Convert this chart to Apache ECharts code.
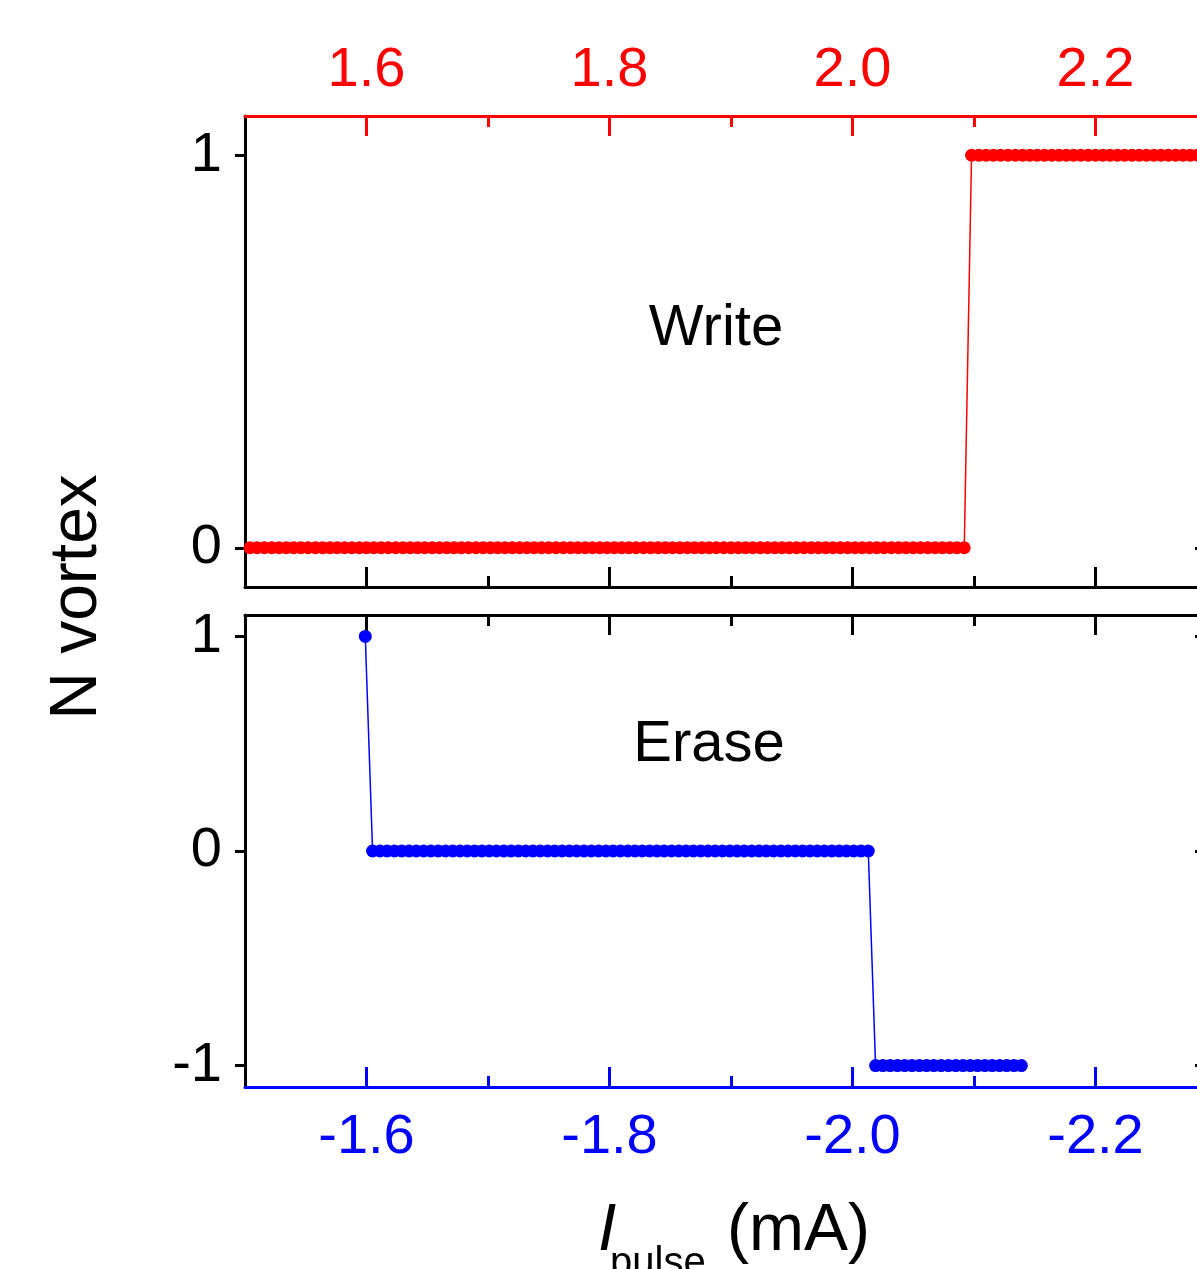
<!DOCTYPE html>
<html>
<head>
<meta charset="utf-8">
<title>N vortex vs I pulse</title>
<script src="https://cdn.jsdelivr.net/npm/echarts@6/dist/echarts.min.js"></script>
<style>
  html, body { margin: 0; padding: 0; background: #ffffff; }
  #chart { width: 1197px; height: 1269px; }
</style>
</head>
<body>
<div id="chart"></div>
<script>
// Write sweep: positive pulse currents (mA) and the resulting vortex number
const writeCurrent = [
  1.504, 1.510, 1.516, 1.522, 1.528, 1.534, 1.540, 1.546, 1.552, 1.558,
  1.564, 1.570, 1.576, 1.582, 1.588, 1.594, 1.600, 1.606, 1.612, 1.618,
  1.624, 1.630, 1.636, 1.642, 1.648, 1.654, 1.660, 1.666, 1.672, 1.678,
  1.684, 1.690, 1.696, 1.702, 1.708, 1.714, 1.720, 1.726, 1.732, 1.738,
  1.744, 1.750, 1.756, 1.762, 1.768, 1.774, 1.780, 1.786, 1.792, 1.798,
  1.804, 1.810, 1.816, 1.822, 1.828, 1.834, 1.840, 1.846, 1.852, 1.858,
  1.864, 1.870, 1.876, 1.882, 1.888, 1.894, 1.900, 1.906, 1.912, 1.918,
  1.924, 1.930, 1.936, 1.942, 1.948, 1.954, 1.960, 1.966, 1.972, 1.978,
  1.984, 1.990, 1.996, 2.002, 2.008, 2.014, 2.020, 2.026, 2.032, 2.038,
  2.044, 2.050, 2.056, 2.062, 2.068, 2.074, 2.080, 2.086, 2.092, 2.098,
  2.104, 2.110, 2.116, 2.122, 2.128, 2.134, 2.140, 2.146, 2.152, 2.158,
  2.164, 2.170, 2.176, 2.182, 2.188, 2.194, 2.200, 2.206, 2.212, 2.218,
  2.224, 2.230, 2.236, 2.242, 2.248, 2.254, 2.260, 2.266, 2.272, 2.278,
  2.284
];
const writeN = [
  0, 0, 0, 0, 0, 0, 0, 0, 0, 0,
  0, 0, 0, 0, 0, 0, 0, 0, 0, 0,
  0, 0, 0, 0, 0, 0, 0, 0, 0, 0,
  0, 0, 0, 0, 0, 0, 0, 0, 0, 0,
  0, 0, 0, 0, 0, 0, 0, 0, 0, 0,
  0, 0, 0, 0, 0, 0, 0, 0, 0, 0,
  0, 0, 0, 0, 0, 0, 0, 0, 0, 0,
  0, 0, 0, 0, 0, 0, 0, 0, 0, 0,
  0, 0, 0, 0, 0, 0, 0, 0, 0, 0,
  0, 0, 0, 0, 0, 0, 0, 0, 0, 1,
  1, 1, 1, 1, 1, 1, 1, 1, 1, 1,
  1, 1, 1, 1, 1, 1, 1, 1, 1, 1,
  1, 1, 1, 1, 1, 1, 1, 1, 1, 1,
  1
];

// Erase sweep: negative pulse currents (mA) and the resulting vortex number
const eraseCurrent = [
  -1.599,
  -1.605, -1.611, -1.617, -1.623, -1.629, -1.635, -1.641, -1.647, -1.653, -1.659,
  -1.665, -1.671, -1.677, -1.683, -1.689, -1.695, -1.701, -1.707, -1.713, -1.719,
  -1.725, -1.731, -1.737, -1.743, -1.749, -1.755, -1.761, -1.767, -1.773, -1.779,
  -1.785, -1.791, -1.797, -1.803, -1.809, -1.815, -1.821, -1.827, -1.833, -1.839,
  -1.845, -1.851, -1.857, -1.863, -1.869, -1.875, -1.881, -1.887, -1.893, -1.899,
  -1.905, -1.911, -1.917, -1.923, -1.929, -1.935, -1.941, -1.947, -1.953, -1.959,
  -1.965, -1.971, -1.977, -1.983, -1.989, -1.995, -2.001, -2.007, -2.013,
  -2.019, -2.025, -2.031, -2.037, -2.043, -2.049, -2.055, -2.061, -2.067, -2.073,
  -2.079, -2.085, -2.091, -2.097, -2.103, -2.109, -2.115, -2.121, -2.127, -2.133,
  -2.139
];
const eraseN = [
  1,
  0, 0, 0, 0, 0, 0, 0, 0, 0, 0,
  0, 0, 0, 0, 0, 0, 0, 0, 0, 0,
  0, 0, 0, 0, 0, 0, 0, 0, 0, 0,
  0, 0, 0, 0, 0, 0, 0, 0, 0, 0,
  0, 0, 0, 0, 0, 0, 0, 0, 0, 0,
  0, 0, 0, 0, 0, 0, 0, 0, 0, 0,
  0, 0, 0, 0, 0, 0, 0, 0, 0,
  -1, -1, -1, -1, -1, -1, -1, -1, -1, -1,
  -1, -1, -1, -1, -1, -1, -1, -1, -1, -1,
  -1
];

// Tick positions
const writeMajorTicks = [1.6, 1.8, 2.0, 2.2];
const writeMinorTicks = [1.7, 1.9, 2.1];
const eraseMajorTicks = [-1.6, -1.8, -2.0, -2.2];
const eraseMinorTicks = [-1.7, -1.9, -2.1];
const writeYTicks = [0, 1];
const eraseYTicks = [-1, 0, 1];

const RED = '#ff0000';
const BLUE = '#0000ff';
const BLACK = '#000000';
const FONT = '"Liberation Sans", Arial, sans-serif';

const X_MIN = 1.5, X_MAX = 2.2885;

function pairs(xs, ys) {
  return xs.map((x, i) => [x, ys[i]]);
}

// Builds one horizontal axis (major or minor tick set) for a panel
function xAxisDef(gridIndex, position, color, ticks, len, opts) {
  const o = Object.assign({ labels: false, line: true, inverse: false, neg: false }, opts);
  return {
    type: 'value',
    gridIndex: gridIndex,
    position: position,
    inverse: o.inverse,
    min: o.neg ? -X_MAX : X_MIN,
    max: o.neg ? -X_MIN : X_MAX,
    axisLine: { show: o.line, onZero: false, lineStyle: { color: color, width: 3 } },
    axisTick: { show: true, inside: true, length: len, customValues: ticks,
                lineStyle: { color: color, width: 3 } },
    axisLabel: o.labels ? {
      show: true, customValues: ticks, color: color, fontSize: 56,
      fontFamily: FONT, margin: o.margin,
      formatter: v => v.toFixed(1)
    } : { show: false },
    splitLine: { show: false }
  };
}

function yAxisDef(gridIndex, position, min, max, ticks, labels) {
  return {
    type: 'value',
    gridIndex: gridIndex,
    position: position,
    min: min,
    max: max,
    axisLine: { show: true, onZero: false, lineStyle: { color: BLACK, width: 3 } },
    axisTick: { show: true, inside: !labels, length: labels ? 10 : 8, customValues: ticks,
                lineStyle: { color: BLACK, width: 3 } },
    axisLabel: labels ? {
      show: true, customValues: ticks, color: BLACK, fontSize: 56,
      fontFamily: FONT, margin: 23, formatter: v => String(v)
    } : { show: false },
    splitLine: { show: false }
  };
}

const chart = echarts.init(document.getElementById('chart'), null, { renderer: 'canvas' });

const option = {
  animation: false,
  backgroundColor: '#ffffff',
  grid: [
    { left: 245, top: 116, width: 958, height: 471, outerBoundsMode: 'none', containLabel: false },
    { left: 245, top: 615, width: 958, height: 472, outerBoundsMode: 'none', containLabel: false }
  ],
  xAxis: [
    xAxisDef(0, 'top', RED, writeMajorTicks, 20, { labels: true, margin: 17 }),
    xAxisDef(0, 'top', RED, writeMinorTicks, 11, { line: false }),
    xAxisDef(0, 'bottom', BLACK, writeMajorTicks, 20, {}),
    xAxisDef(0, 'bottom', BLACK, writeMinorTicks, 11, { line: false }),
    xAxisDef(1, 'top', BLACK, eraseMajorTicks, 20, { inverse: true, neg: true }),
    xAxisDef(1, 'top', BLACK, eraseMinorTicks, 11, { inverse: true, neg: true, line: false }),
    xAxisDef(1, 'bottom', BLUE, eraseMajorTicks, 20, { inverse: true, neg: true, labels: true, margin: 23 }),
    xAxisDef(1, 'bottom', BLUE, eraseMinorTicks, 11, { inverse: true, neg: true, line: false })
  ],
  yAxis: [
    yAxisDef(0, 'left', -0.1, 1.1, writeYTicks, true),
    yAxisDef(0, 'right', -0.1, 1.1, writeYTicks, false),
    yAxisDef(1, 'left', -1.1, 1.1, eraseYTicks, true),
    yAxisDef(1, 'right', -1.1, 1.1, eraseYTicks, false)
  ],
  series: [
    {
      name: 'Write',
      type: 'line',
      xAxisIndex: 0,
      yAxisIndex: 0,
      data: pairs(writeCurrent, writeN),
      symbol: 'circle',
      symbolSize: 13,
      showAllSymbol: true,
      itemStyle: { color: RED },
      lineStyle: { color: RED, width: 1.5 },
      clip: true
    },
    {
      name: 'Erase',
      type: 'line',
      xAxisIndex: 6,
      yAxisIndex: 2,
      data: pairs(eraseCurrent, eraseN),
      symbol: 'circle',
      symbolSize: 13,
      showAllSymbol: true,
      itemStyle: { color: BLUE },
      lineStyle: { color: BLUE, width: 1.5 },
      clip: true
    }
  ],
  graphic: [
    { type: 'text', x: 78, y: 597, rotation: Math.PI / 2,
      style: { text: 'N vortex', fill: BLACK, font: '66px ' + FONT, align: 'center', verticalAlign: 'middle' } },
    { type: 'text', x: 716, y: 329,
      style: { text: 'Write', fill: BLACK, font: '58px ' + FONT, align: 'center', verticalAlign: 'middle' } },
    { type: 'text', x: 709, y: 745,
      style: { text: 'Erase', fill: BLACK, font: '58px ' + FONT, align: 'center', verticalAlign: 'middle' } },
    { type: 'text', x: 598, y: 1232,
      style: { text: 'I', fill: BLACK, font: 'italic 66px ' + FONT, align: 'left', verticalAlign: 'middle' } },
    { type: 'text', x: 610, y: 1264,
      style: { text: 'pulse', fill: BLACK, font: '40px ' + FONT, align: 'left', verticalAlign: 'middle' } },
    { type: 'text', x: 727, y: 1232,
      style: { text: '(mA)', fill: BLACK, font: '66px ' + FONT, align: 'left', verticalAlign: 'middle' } }
  ]
};

chart.setOption(option);
</script>
</body>
</html>
